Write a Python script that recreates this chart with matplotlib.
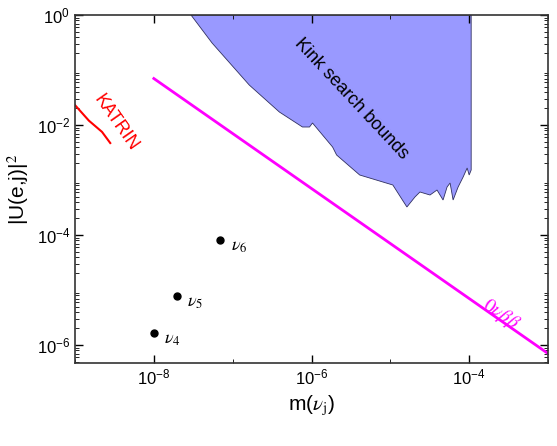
import numpy as np
import matplotlib
matplotlib.use("Agg")
import matplotlib.pyplot as plt
from matplotlib.ticker import LogLocator, NullFormatter

plt.rcParams['font.family'] = ['Liberation Sans', 'DejaVu Sans']
plt.rcParams['mathtext.fontset'] = 'stix'

# pixel-read kink boundary (converted to log10 data)
kink_px = [(192,15),(213,43),(250,85),(280,112),(303,127),(310,127),(313,123),(333,147),
           (337,155),(360,175),(393,185),(407,207),(415,197),(420,192),(430,195),(437,190),
           (443,200),(447,187),(450,183),(453,200),(458,187),(463,177),(467,168),(469,175),(471,170)]
kink_logm = [-8 + (p[0]-155)/78.5 for p in kink_px]
kink_logu = [-(p[1]-15)/55 for p in kink_px]
kink_m = [10**v for v in kink_logm]
kink_u = [10**v for v in kink_logu]

katrin_m = [9.5e-10, 1.5e-9, 2.2e-9, 2.8e-9]
katrin_u = [2.5e-2, 1.2e-2, 7.5e-3, 4.7e-3]

onbb_m = [1e-8, 1e-3]
onbb_u = [7e-2, 7e-7]

pt_m = [1.0e-8, 1.96e-8, 7.0e-8]
pt_u = [1.65e-6, 7.8e-6, 8.1e-5]
pt_lab = [r'$\nu_4$', r'$\nu_5$', r'$\nu_6$']

fig = plt.figure(figsize=(5.57, 4.46), dpi=100)
ax = fig.add_axes([75/557, 1-363/446, (548-75)/557, (363-15)/446])
ax.set_xscale('log'); ax.set_yscale('log')

xs = [kink_m[0]] + kink_m + [kink_m[-1]]
ys = [1.0] + kink_u + [1.0]
ax.fill(xs, ys, facecolor='#9999ff', edgecolor='#303060', linewidth=0.6, zorder=1)
ax.text(3.2e-6, 3e-2, 'Kink search bounds', rotation=-47, fontsize=13, ha='center', va='center')

ax.plot(katrin_m, katrin_u, color='red', lw=1.5)
ax.text(3.3e-9, 1.1e-2, 'KATRIN', color='red', rotation=-55, fontsize=13, ha='center', va='center')

ax.plot(onbb_m, onbb_u, color='magenta', lw=2)
ax.text(2.5e-4, 3.5e-6, r'$0\nu\beta\beta$', color='magenta', rotation=-35, fontsize=14, ha='center', va='center')

ax.plot(pt_m, pt_u, 'o', color='black', ms=5, ls='none')
for m, u, l in zip(pt_m, pt_u, pt_lab):
    ax.text(m*1.35, u*0.75, l, fontsize=13, ha='left', va='center')

ax.set_xticks([1e-8, 1e-6, 1e-4], labels=[r'$\mathregular{10^{-8}}$', r'$\mathregular{10^{-6}}$', r'$\mathregular{10^{-4}}$'])
ax.set_xticks([10**k for k in range(-9, -2) if k not in (-8, -6, -4)], minor=True)
ax.xaxis.set_minor_formatter(NullFormatter())
ax.set_yticks([1e-6, 1e-4, 1e-2, 1], labels=[r'$\mathregular{10^{-6}}$', r'$\mathregular{10^{-4}}$', r'$\mathregular{10^{-2}}$', r'$\mathregular{10^{0}}$'])
ax.yaxis.set_minor_locator(LogLocator(base=10, subs=np.arange(2, 10), numticks=20))
ax.yaxis.set_minor_formatter(NullFormatter())
ax.set_xlim(1e-9, 1e-3); ax.set_ylim(10**(-348/55), 1)
ax.tick_params(which='both', direction='in', top=True, right=True, labelsize=12)
ax.tick_params(which='major', length=6, width=1)
ax.tick_params(which='minor', length=3)
for s in ax.spines.values():
    s.set_linewidth(1.2); s.set_color('#333333')
ax.set_xlabel(r'm($\nu_{\rm j}$)', fontsize=15)
ax.set_ylabel(r'|U(e,j)|$^2$', fontsize=15)
fig.savefig('out.png', dpi=100)
